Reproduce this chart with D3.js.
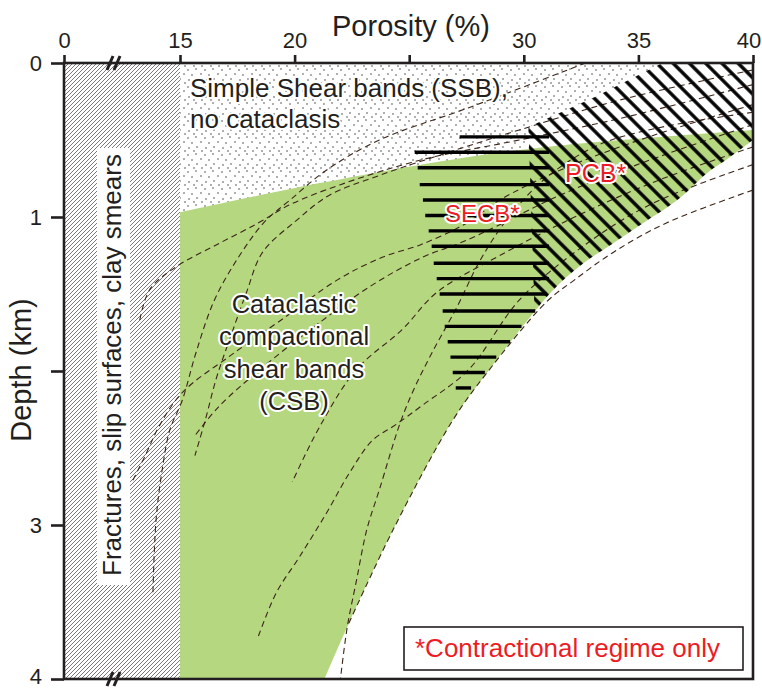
<!DOCTYPE html>
<html lang="en">
<head>
<meta charset="utf-8">
<title>Deformation bands vs porosity and depth</title>
<script src="https://cdn.jsdelivr.net/npm/d3@7/dist/d3.min.js"></script>
<style>
  body { margin: 0; background: #fff; }
  svg { font-family: Helvetica, Arial, "Liberation Sans", sans-serif; }
  .lbl { fill: #231f20; stroke: #fff; stroke-width: 4px; paint-order: stroke; stroke-linejoin: round; }
  .red { fill: #ed1c24; stroke: #fff; stroke-width: 4px; paint-order: stroke; stroke-linejoin: round; }
  .comp { fill: none; stroke: #3b2418; stroke-width: 1.1px; stroke-dasharray: 6 4; }
</style>
</head>
<body>
<svg width="762" height="688"></svg>
<script>
// ticks (25 % carries no label, the axis title sits there)
var xTicks = [0, 15, 20, 25, 30, 35, 40];
var yTicks = [0, 1, 2, 3, 4];

// CSB field: upper edge and lower edge, [porosity %, depth km]
var greenTop = [[15, 0.97], [21.1, 0.78], [27.6, 0.61], [31.6, 0.535], [40, 0.435]];
var greenEdge = [[40, 0.5], [39, 0.61], [38, 0.714], [36.7, 0.89], [35.2, 1.04], [33.9, 1.17], [32.6, 1.3],
                 [31.3, 1.47], [29.95, 1.71], [28.4, 2.01], [26.9, 2.32], [24.3, 3.03], [22.3, 3.66], [21.3, 4.0]];

// PCB field limit (upper left side)
var pcbEdge = [[30.2, 0.416], [33.1, 0.22], [36.05, 0]];
var pcbLeftFoot = [30.6, 2.2];

// SECB bars
var secbDepth = [0.48, 0.58, 0.68, 0.79, 0.89, 0.99, 1.09, 1.19, 1.30, 1.40, 1.50, 1.61, 1.71, 1.81, 1.91, 2.01, 2.11];
var secbFrom  = [27.2, 25.24, 25.37, 25.46, 25.6, 25.7, 25.85, 25.98, 26.07, 26.2, 26.33, 26.46, 26.55, 26.68, 26.8, 26.9, 27.03];
var secbTo    = [31.1, 31.1, 31.1, 31.1, 31.1, 31.1, 31.1, 31.1, 31.1, 31.1, 31.0, 30.5, 29.9, 29.4, 28.8, 28.3, 27.7];

// compaction curves (dashed)
var curveA = [[32.7, 0], [27.6, 0.29], [23.7, 0.5], [21.4, 0.695], [19.8, 0.89], [18.7, 1.03], [17.6, 1.25], [16.5, 1.54],
              [15.7, 1.88], [15.1, 2.19], [13.7, 2.38], [12.7, 2.64], [11.9, 2.97], [11.5, 3.44]];
var curveB = [[40, 0.045], [34.2, 0.24], [29.8, 0.435], [26.3, 0.6], [23.7, 0.73], [21.5, 0.86], [20.1, 1.02], [18.6, 1.23],
              [17.9, 1.49], [17.2, 1.78], [16.6, 2.04], [16.1, 2.32], [15.65, 2.55]];
var curveC = [[40, 0.14], [34.2, 0.36], [29.8, 0.5], [25.5, 0.63], [22.0, 0.79], [19.8, 0.92], [18.4, 1.04], [16.6, 1.18],
              [14.6, 1.32], [11.1, 1.47], [9.8, 1.67]];
var curveD = [[40, 0.27], [35.05, 0.5], [31.6, 0.695], [28.95, 0.89], [27.5, 1.04], [25.5, 1.18], [23.85, 1.26], [21.85, 1.41],
              [19.4, 1.67], [17.2, 1.9], [15.1, 2.14], [12.4, 2.35], [10.5, 2.55], [8.9, 2.71]];
var curveE = [[40, 0.4], [35.5, 0.63], [31.6, 0.857], [28.95, 1.05], [27.2, 1.17], [25.6, 1.26], [23.3, 1.45], [20.7, 1.73],
              [18.5, 1.99], [16.7, 2.23], [15.65, 2.42]];
var curveF = [[40, 0.545], [35.9, 0.76], [32.4, 0.987], [28.95, 1.25], [26.2, 1.49], [24.7, 1.73], [22.7, 1.99], [21.1, 2.36], [19.9, 2.72]];
var curveG = [[40, 0.66], [35.5, 0.92], [32.4, 1.21], [29.8, 1.54], [27.6, 1.99], [25.6, 2.22], [24.4, 2.35], [23.4, 2.45],
              [22.4, 2.66], [21.4, 2.92], [20.2, 3.21], [19.2, 3.44], [18.4, 3.73]];
var curveH = [[40, 0.32], [35.9, 0.42], [33.3, 0.53], [31.1, 0.73], [29.4, 0.99], [28.1, 1.28], [27.1, 1.58], [26.0, 1.88],
              [25.2, 2.12], [24.6, 2.34], [23.7, 2.77], [23.15, 3.03], [22.7, 3.36], [22.3, 3.66], [22.0, 4.0]];
var curveI = [[40, 0.825], [36.2, 1.04], [33.9, 1.23], [32.2, 1.41], [31.0, 1.55], [28.4, 2.01], [26.9, 2.32], [24.3, 3.03], [22.3, 3.66]];

var svg = d3.select("svg");

// broken porosity axis: 0-15 squeezed, 15-40 linear
var x = d3.scaleLinear().domain([0, 15, 40]).range([64, 180, 753]);
var y = d3.scaleLinear().domain([0, 4]).range([63, 679]);

var line = d3.line()
   .x(function(d) { return x(d[0]); })
   .y(function(d) { return y(d[1]); })
   .curve(d3.curveCatmullRom);
var poly = d3.line()
   .x(function(d) { return x(d[0]); })
   .y(function(d) { return y(d[1]); })
   .curve(d3.curveLinearClosed);
function cont(pts) { return "L" + line(pts).slice(1); }
function pt(p, d) { return x(p) + "," + y(d); }

var defs = svg.append("defs");

// fine hatch for the 0-15 % strip
var hf = defs.append("pattern").attr("id", "hatchFine")
   .attr("patternUnits", "userSpaceOnUse").attr("width", 4).attr("height", 4);
hf.append("path").attr("d", "M-1,1L1,-1M0,4L4,0M3,5L5,3")
   .attr("stroke", "#231f20").attr("stroke-width", 0.6);

// stipple for SSB
var dots = defs.append("pattern").attr("id", "dots")
   .attr("patternUnits", "userSpaceOnUse").attr("width", 17).attr("height", 17);
[[1, 2], [9, 1], [5, 7], [14, 6], [2, 12], [10, 11], [15, 15], [7, 15]].forEach(function(c) {
   dots.append("circle").attr("cx", c[0]).attr("cy", c[1]).attr("r", 0.7).attr("fill", "#231f20");
});

// bold hatch for PCB
var hb = defs.append("pattern").attr("id", "hatchBold")
   .attr("patternUnits", "userSpaceOnUse").attr("width", 20).attr("height", 11.5)
   .attr("patternTransform", "rotate(45)");
hb.append("line").attr("x1", 0).attr("x2", 20).attr("y1", 5.75).attr("y2", 5.75)
   .attr("stroke", "#000").attr("stroke-width", 3.4);

defs.append("clipPath").attr("id", "plotClip")
   .append("rect").attr("x", x(0)).attr("y", y(0)).attr("width", x(40) - x(0)).attr("height", y(4) - y(0));

var pcbLimit = [pcbLeftFoot].concat(pcbEdge, [[40, 0], [40, pcbLeftFoot[1]]]);
defs.append("clipPath").attr("id", "pcbA").append("path").attr("d", poly(pcbLimit));
defs.append("clipPath").attr("id", "pcbB").append("path")
   .attr("d", "M" + pt(40, 0) + cont(greenEdge) + "L" + pt(15, 4) + "L" + pt(15, 0) + "Z");

var plot = svg.append("g").attr("clip-path", "url(#plotClip)");

// 0-15 % strip
plot.append("rect")
   .attr("x", x(0)).attr("y", y(0))
   .attr("width", x(15) - x(0)).attr("height", y(4) - y(0))
   .attr("fill", "url(#hatchFine)");

// SSB stipple (green drawn on top trims it)
var ssb = [[15, 0]].concat(pcbEdge.slice().reverse().map(function(p) { return p; }));
ssb = [[15, 0], [36.05, 0], [33.1, 0.22], [30.2, 0.416], [30.2, 0.7], [15, 1.0]];
plot.append("path").attr("d", poly(ssb)).attr("fill", "url(#dots)");

// CSB green field
plot.append("path")
   .attr("d", line(greenTop) + cont(greenEdge) + "L" + pt(15, 4) + "Z")
   .attr("fill", "#b5d780");

// compaction curves
[curveA, curveB, curveC, curveD, curveE, curveF, curveG, curveH, curveI].forEach(function(c) {
   plot.append("path").attr("class", "comp").attr("d", line(c));
});

// PCB hatch
plot.append("g").attr("clip-path", "url(#pcbA)")
   .append("g").attr("clip-path", "url(#pcbB)")
   .append("rect")
   .attr("x", x(28)).attr("y", y(0))
   .attr("width", x(40) - x(28)).attr("height", y(2.2) - y(0))
   .attr("fill", "url(#hatchBold)");

// SECB bars
plot.selectAll(".secb")
   .data(secbDepth)
   .enter()
   .append("line")
   .attr("class", "secb")
   .attr("x1", function(d, i) { return x(secbFrom[i]); })
   .attr("x2", function(d, i) { return x(secbTo[i]); })
   .attr("y1", function(d) { return y(d); })
   .attr("y2", function(d) { return y(d); })
   .attr("stroke", "#000")
   .attr("stroke-width", 3.4);

// vertical label in the hatched strip
svg.append("rect").attr("x", 97).attr("y", 148).attr("width", 33).attr("height", 437).attr("fill", "#fff");
svg.append("text")
   .attr("transform", "translate(121,365) rotate(-90)")
   .attr("text-anchor", "middle")
   .attr("font-size", 26)
   .attr("fill", "#231f20")
   .text("Fractures, slip surfaces, clay smears");

// field labels
var ssbText = svg.append("text").attr("class", "lbl").attr("font-size", 26);
ssbText.append("tspan").attr("x", 190).attr("y", 97).text("Simple Shear bands (SSB),");
ssbText.append("tspan").attr("x", 190).attr("y", 128).text("no cataclasis");

var csbText = svg.append("text").attr("class", "lbl").attr("font-size", 25.5).attr("text-anchor", "middle");
["Cataclastic", "compactional", "shear bands", "(CSB)"].forEach(function(t, i) {
   csbText.append("tspan").attr("x", 294).attr("y", 313 + i * 32.3).text(t);
});

svg.append("text").attr("class", "red").attr("font-size", 25).attr("x", 565).attr("y", 182).text("PCB*");
svg.append("text").attr("class", "red").attr("font-size", 24).attr("x", 445).attr("y", 222).text("SECB*");

// frame
svg.append("rect")
   .attr("x", x(0)).attr("y", y(0))
   .attr("width", x(40) - x(0)).attr("height", y(4) - y(0))
   .attr("fill", "none").attr("stroke", "#231f20").attr("stroke-width", 2.6);

// axes
var gx = svg.append("g")
   .attr("transform", "translate(0," + y(0) + ")")
   .call(d3.axisTop(x).tickValues(xTicks).tickSize(8).tickSizeOuter(0).tickPadding(7)
      .tickFormat(function(d) { return d === 25 ? "" : d; }));
var gy = svg.append("g")
   .attr("transform", "translate(" + x(0) + ",0)")
   .call(d3.axisLeft(y).tickValues(yTicks).tickSize(13).tickSizeOuter(0).tickPadding(9)
      .tickFormat(function(d) { return d === 2 ? "" : d; }));
[gx, gy].forEach(function(g) {
   g.attr("font-size", 22).attr("font-family", "Helvetica, Arial, 'Liberation Sans', sans-serif");
   g.select(".domain").remove();
   g.selectAll(".tick line").attr("stroke", "#231f20").attr("stroke-width", 2.6);
   g.selectAll(".tick text").attr("fill", "#231f20");
});
// keep the last porosity label inside the window
gx.selectAll(".tick text").filter(function(d) { return d === 40; }).attr("dx", "-0.2em");
gy.selectAll(".tick text").filter(function(d) { return d === 4; }).attr("dy", "0.2em");

// axis break marks
[y(0), y(4)].forEach(function(by) {
   svg.append("line").attr("x1", 107).attr("y1", by + 7).attr("x2", 113).attr("y2", by - 7)
      .attr("stroke", "#231f20").attr("stroke-width", 3);
   svg.append("line").attr("x1", 114).attr("y1", by + 7).attr("x2", 120).attr("y2", by - 7)
      .attr("stroke", "#231f20").attr("stroke-width", 3);
});

// axis titles
svg.append("text")
   .attr("x", 411).attr("y", 36)
   .attr("text-anchor", "middle")
   .attr("font-size", 29)
   .attr("fill", "#231f20")
   .text("Porosity (%)");
svg.append("text")
   .attr("transform", "translate(31,370) rotate(-90)")
   .attr("text-anchor", "middle")
   .attr("font-size", 29)
   .attr("fill", "#231f20")
   .text("Depth (km)");

// note box
svg.append("rect")
   .attr("x", 404).attr("y", 627).attr("width", 339).attr("height", 43)
   .attr("fill", "#fff").attr("stroke", "#231f20").attr("stroke-width", 1.6);
svg.append("text")
   .attr("x", 415).attr("y", 657)
   .attr("font-size", 26)
   .attr("fill", "#ed1c24")
   .text("*Contractional regime only");
</script>
</body>
</html>
